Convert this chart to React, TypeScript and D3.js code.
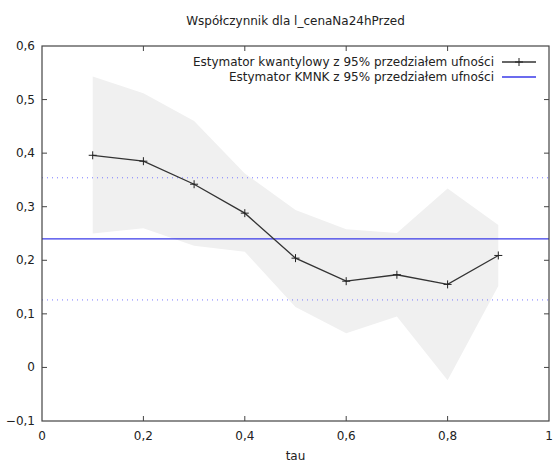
import React from "react";
import * as d3 from "d3";

// quantile regression estimates per tau
const taus = [0.1, 0.2, 0.3, 0.4, 0.5, 0.6, 0.7, 0.8, 0.9];
const quantEst = [0.396, 0.385, 0.342, 0.288, 0.204, 0.161, 0.173, 0.155, 0.209];
const bandUpper = [0.543, 0.512, 0.46, 0.362, 0.294, 0.258, 0.251, 0.334, 0.266];
const bandLower = [0.25, 0.26, 0.227, 0.216, 0.113, 0.064, 0.095, -0.024, 0.152];

// OLS (KMNK) estimate and its interval
const olsEst = 0.24;
const olsLower = 0.126;
const olsUpper = 0.354;

const xTicks = [0, 0.2, 0.4, 0.6, 0.8, 1];
const yTicks = [-0.1, 0, 0.1, 0.2, 0.3, 0.4, 0.5, 0.6];

const title = "Współczynnik dla l_cenaNa24hPrzed";
const legendLabels = [
  "Estymator kwantylowy z 95% przedziałem ufności",
  "Estymator KMNK z 95% przedziałem ufności",
];

const width = 555;
const height = 462;
const margin = { top: 46, right: 6, bottom: 41, left: 42 };
const font = "'DejaVu Sans', sans-serif";
const fs = 12;

const fmt = (v: number) => {
  const s = Math.abs(v) < 1e-9 ? "0" : d3.format(".1~f")(v);
  return s.replace(".", ",");
};

export default function App() {
  const x = d3
    .scaleLinear()
    .domain([0, 1])
    .range([margin.left, width - margin.right]);
  const y = d3
    .scaleLinear()
    .domain([-0.1, 0.6])
    .range([height - margin.bottom, margin.top]);

  const x0 = x.range()[0];
  const x1 = x.range()[1];
  const y0 = y.range()[0];
  const y1 = y.range()[1];
  const tickLen = 5;

  const band = d3
    .area<number>()
    .x((_, i) => x(taus[i]))
    .y0((_, i) => y(bandLower[i]))
    .y1((d) => y(d));

  const line = d3
    .line<number>()
    .x((_, i) => x(taus[i]))
    .y((d) => y(d));

  const plus = (cx: number, cy: number, key: string) => (
    <path
      key={key}
      d={`M${cx - 4},${cy}H${cx + 4}M${cx},${cy - 4}V${cy + 4}`}
      stroke="#222"
      strokeWidth={1}
    />
  );

  return (
    <svg
      width={width}
      height={height}
      style={{ position: "absolute", left: 0, top: 0, background: "white" }}
      fontFamily={font}
    >
      <text x={(x0 + x1) / 2} y={25} textAnchor="middle" fontSize={fs} fill="#222">
        {title}
      </text>

      {/* confidence band */}
      <path d={band(bandUpper) ?? ""} fill="#f0f0f0" />

      {/* OLS lines */}
      <line x1={x0} x2={x1} y1={y(olsUpper)} y2={y(olsUpper)} stroke="#7a7aff" strokeWidth={1} strokeDasharray="1,4" />
      <line x1={x0} x2={x1} y1={y(olsLower)} y2={y(olsLower)} stroke="#7a7aff" strokeWidth={1} strokeDasharray="1,4" />
      <line x1={x0} x2={x1} y1={y(olsEst)} y2={y(olsEst)} stroke="#3a3ae8" strokeWidth={1.3} />

      {/* quantile estimates */}
      <path d={line(quantEst) ?? ""} fill="none" stroke="#333" strokeWidth={1.3} />
      {quantEst.map((v, i) => plus(x(taus[i]), y(v), `p${i}`))}

      {/* border and ticks */}
      <rect x={x0} y={y1} width={x1 - x0} height={y0 - y1} fill="none" stroke="#444" strokeWidth={1.2} />
      {yTicks.slice(1, -1).map((t) => (
        <g key={`yt${t}`}>
          <line x1={x0} x2={x0 + tickLen} y1={y(t)} y2={y(t)} stroke="#444" />
          <line x1={x1} x2={x1 - tickLen} y1={y(t)} y2={y(t)} stroke="#444" />
        </g>
      ))}
      {xTicks.slice(1, -1).map((t) => (
        <g key={`xt${t}`}>
          <line x1={x(t)} x2={x(t)} y1={y0} y2={y0 - tickLen} stroke="#444" />
          <line x1={x(t)} x2={x(t)} y1={y1} y2={y1 + tickLen} stroke="#444" />
        </g>
      ))}
      {yTicks.map((t) => (
        <text key={`yl${t}`} x={x0 - 7} y={y(t) + 4} textAnchor="end" fontSize={fs} fill="#222">
          {fmt(t)}
        </text>
      ))}
      {xTicks.map((t) => (
        <text key={`xl${t}`} x={x(t)} y={y0 + 19} textAnchor="middle" fontSize={fs} fill="#222">
          {fmt(t)}
        </text>
      ))}
      <text x={(x0 + x1) / 2} y={460} textAnchor="middle" fontSize={fs} fill="#222">
        tau
      </text>

      {/* legend */}
      {legendLabels.map((lab, i) => {
        const ly = 62 + i * 15;
        return (
          <g key={lab}>
            <text x={494} y={ly + 4} textAnchor="end" fontSize={fs} fill="#222">
              {lab}
            </text>
            <line
              x1={502}
              x2={536}
              y1={ly}
              y2={ly}
              stroke={i === 0 ? "#333" : "#3a3ae8"}
              strokeWidth={1.3}
            />
            {i === 0 && plus(519, ly, "lp")}
          </g>
        );
      })}
    </svg>
  );
}
